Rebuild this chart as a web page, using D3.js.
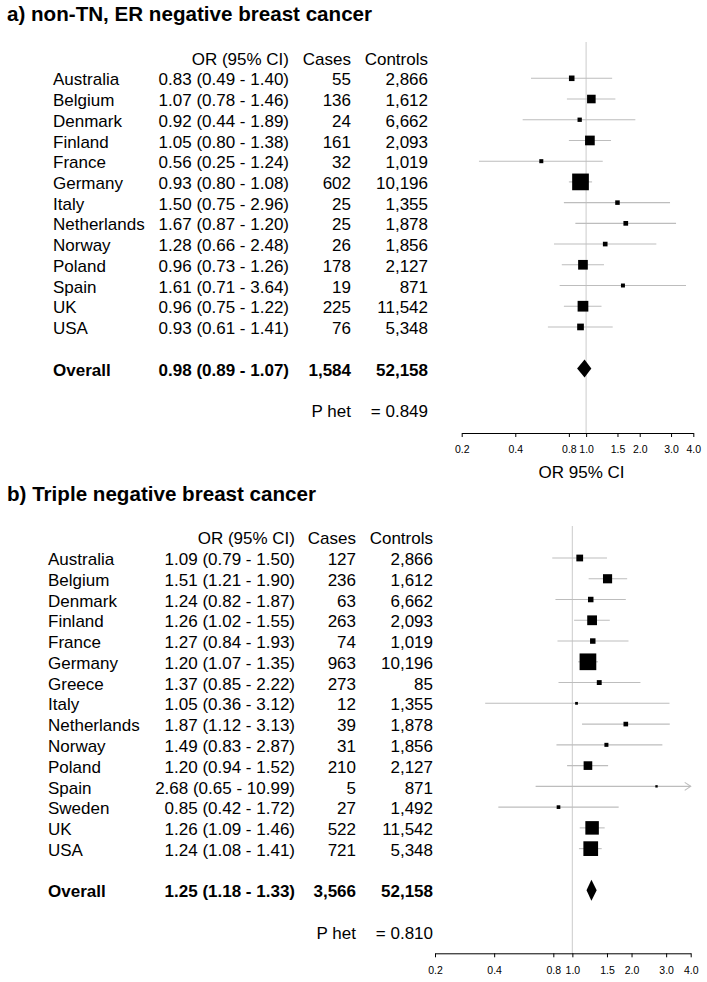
<!DOCTYPE html>
<html>
<head>
<meta charset="utf-8">
<script src="https://cdn.jsdelivr.net/npm/d3@7"></script>
<style>
  body { margin: 0; background: #fff; }
  svg { display: block; font-family: "Liberation Sans", Arial, Helvetica, sans-serif; }
</style>
</head>
<body>
<svg id="chart" width="707" height="982"></svg>
<script>
// ---- data: a) non-TN, ER negative ----
const aCountries = ['Australia', 'Belgium', 'Denmark', 'Finland', 'France', 'Germany', 'Italy',
  'Netherlands', 'Norway', 'Poland', 'Spain', 'UK', 'USA']
const aOR = [0.83, 1.07, 0.92, 1.05, 0.56, 0.93, 1.50, 1.67, 1.28, 0.96, 1.61, 0.96, 0.93]
const aLo = [0.49, 0.78, 0.44, 0.80, 0.25, 0.80, 0.75, 0.87, 0.66, 0.73, 0.71, 0.75, 0.61]
const aHi = [1.40, 1.46, 1.89, 1.38, 1.24, 1.08, 2.96, 3.20, 2.48, 1.26, 3.64, 1.22, 1.41]
const aLabels = ['0.83 (0.49 - 1.40)', '1.07 (0.78 - 1.46)', '0.92 (0.44 - 1.89)', '1.05 (0.80 - 1.38)',
  '0.56 (0.25 - 1.24)', '0.93 (0.80 - 1.08)', '1.50 (0.75 - 2.96)', '1.67 (0.87 - 1.20)',
  '1.28 (0.66 - 2.48)', '0.96 (0.73 - 1.26)', '1.61 (0.71 - 3.64)', '0.96 (0.75 - 1.22)',
  '0.93 (0.61 - 1.41)']
const aCases = ['55', '136', '24', '161', '32', '602', '25', '25', '26', '178', '19', '225', '76']
const aControls = ['2,866', '1,612', '6,662', '2,093', '1,019', '10,196', '1,355', '1,878',
  '1,856', '2,127', '871', '11,542', '5,348']
const aOverall = [0.98, 0.89, 1.07]
const aOverallText = ['0.98 (0.89 - 1.07)', '1,584', '52,158']
const aPhet = '= 0.849'

// ---- data: b) triple negative ----
const bCountries = ['Australia', 'Belgium', 'Denmark', 'Finland', 'France', 'Germany', 'Greece',
  'Italy', 'Netherlands', 'Norway', 'Poland', 'Spain', 'Sweden', 'UK', 'USA']
const bOR = [1.09, 1.51, 1.24, 1.26, 1.27, 1.20, 1.37, 1.05, 1.87, 1.49, 1.20, 2.68, 0.85, 1.26, 1.24]
const bLo = [0.79, 1.21, 0.82, 1.02, 0.84, 1.07, 0.85, 0.36, 1.12, 0.83, 0.94, 0.65, 0.42, 1.09, 1.08]
const bHi = [1.50, 1.90, 1.87, 1.55, 1.93, 1.35, 2.22, 3.12, 3.13, 2.87, 1.52, 10.99, 1.72, 1.46, 1.41]
const bLabels = ['1.09 (0.79 - 1.50)', '1.51 (1.21 - 1.90)', '1.24 (0.82 - 1.87)', '1.26 (1.02 - 1.55)',
  '1.27 (0.84 - 1.93)', '1.20 (1.07 - 1.35)', '1.37 (0.85 - 2.22)', '1.05 (0.36 - 3.12)',
  '1.87 (1.12 - 3.13)', '1.49 (0.83 - 2.87)', '1.20 (0.94 - 1.52)', '2.68 (0.65 - 10.99)',
  '0.85 (0.42 - 1.72)', '1.26 (1.09 - 1.46)', '1.24 (1.08 - 1.41)']
const bCases = ['127', '236', '63', '263', '74', '963', '273', '12', '39', '31', '210', '5', '27', '522', '721']
const bControls = ['2,866', '1,612', '6,662', '2,093', '1,019', '10,196', '85', '1,355', '1,878',
  '1,856', '2,127', '871', '1,492', '11,542', '5,348']
const bOverall = [1.25, 1.18, 1.33]
const bOverallText = ['1.25 (1.18 - 1.33)', '3,566', '52,158']
const bPhet = '= 0.810'

const tickValues = [0.2, 0.4, 0.8, 1.0, 1.5, 2.0, 3.0, 4.0]
const headers = ['OR (95% CI)', 'Cases', 'Controls']

const svg = d3.select('#chart')
svg.append('rect').attr('width', 707).attr('height', 982).attr('fill', '#fff')

drawPanel({
  title: 'a) non-TN, ER negative breast cancer', titleY: 21,
  countries: aCountries, or: aOR, lo: aLo, hi: aHi, labels: aLabels, cases: aCases, controls: aControls,
  overall: aOverall, overallText: aOverallText, phet: aPhet,
  row0: 78.3, step: 20.72,
  colName: 53, colOR: 289, colCases: 351, colControls: 428,
  xRange: [461.7, 693.3], axisY: 433, lineTop: 42, diamondH: 18,
  xlab: 'OR 95% CI'
})

drawPanel({
  title: 'b) Triple negative breast cancer', titleY: 501,
  countries: bCountries, or: bOR, lo: bLo, hi: bHi, labels: bLabels, cases: bCases, controls: bControls,
  overall: bOverall, overallText: bOverallText, phet: bPhet,
  row0: 558, step: 20.76,
  colName: 48, colOR: 295, colCases: 356, colControls: 433,
  xRange: [435, 690.7], axisY: 953.3, lineTop: 526, diamondH: 21,
  xlab: null
})

function drawPanel(p) {
  const n = p.countries.length
  const g = svg.append('g')

  const x = d3.scaleLog().domain([0.2, 4.0]).range(p.xRange)
  const y = d3.scaleLinear().domain([0, 1]).range([p.row0, p.row0 + p.step])
  const overallRow = n + 1
  const phetRow = n + 3

  // box side from inverse standard error
  const se = p.lo.map((l, i) => (Math.log(p.hi[i]) - Math.log(l)) / (2 * 1.96))
  const w = se.map(s => 1 / s)
  const size = d3.scaleLinear().domain([0, d3.max(w)]).range([1.1, 16.7])

  g.append('text')
    .attr('x', 7).attr('y', p.titleY)
    .attr('font-size', 20.6).attr('font-weight', 'bold')
    .text(p.title)

  // table
  const txt = g.append('g').attr('font-size', 17).attr('fill', '#000')
  const cols = [p.colOR, p.colCases, p.colControls]
  headers.forEach((h, j) => {
    txt.append('text').attr('x', cols[j]).attr('y', y(-1)).attr('dy', '0.42em')
      .attr('text-anchor', 'end').text(h)
  })
  p.countries.forEach((c, i) => {
    const row = txt.append('g')
    row.append('text').attr('x', p.colName).attr('y', y(i)).attr('dy', '0.42em').text(c)
    row.append('text').attr('x', p.colOR).attr('y', y(i)).attr('dy', '0.42em')
      .attr('text-anchor', 'end').text(p.labels[i])
    row.append('text').attr('x', p.colCases).attr('y', y(i)).attr('dy', '0.42em')
      .attr('text-anchor', 'end').text(p.cases[i])
    row.append('text').attr('x', p.colControls).attr('y', y(i)).attr('dy', '0.42em')
      .attr('text-anchor', 'end').text(p.controls[i])
  })
  const ov = txt.append('g').attr('font-weight', 'bold')
  ov.append('text').attr('x', p.colName).attr('y', y(overallRow)).attr('dy', '0.42em').text('Overall')
  p.overallText.forEach((t, j) => {
    ov.append('text').attr('x', cols[j]).attr('y', y(overallRow)).attr('dy', '0.42em')
      .attr('text-anchor', 'end').text(t)
  })
  txt.append('text').attr('x', p.colCases).attr('y', y(phetRow)).attr('dy', '0.42em')
    .attr('text-anchor', 'end').text('P het')
  txt.append('text').attr('x', p.colControls).attr('y', y(phetRow)).attr('dy', '0.42em')
    .attr('text-anchor', 'end').text(p.phet)

  // reference line at OR = 1
  g.append('line')
    .attr('x1', x(1)).attr('x2', x(1))
    .attr('y1', p.lineTop).attr('y2', p.axisY)
    .attr('stroke', '#d4d4d4').attr('stroke-width', 1.2)

  // confidence intervals
  const maxV = x.domain()[1]
  const minV = x.domain()[0]
  d3.range(n).forEach(i => {
    const lo = Math.max(p.lo[i], minV)
    const hi = Math.min(p.hi[i], maxV)
    g.append('line')
      .attr('x1', x(lo)).attr('x2', x(hi))
      .attr('y1', y(i)).attr('y2', y(i))
      .attr('stroke', '#bdbdbd').attr('stroke-width', 1.1)
    if (p.hi[i] > maxV) {
      // clipped: draw arrow head
      g.append('path')
        .attr('d', 'M' + (x(maxV) - 6) + ',' + (y(i) - 4) + 'L' + x(maxV) + ',' + y(i) + 'L' + (x(maxV) - 6) + ',' + (y(i) + 4))
        .attr('fill', 'none').attr('stroke', '#bdbdbd').attr('stroke-width', 1.1)
    }
  })

  // boxes
  g.selectAll('rect.box')
    .data(d3.range(n))
    .enter().append('rect')
      .attr('class', 'box')
      .attr('x', i => x(p.or[i]) - size(w[i]) / 2)
      .attr('y', i => y(i) - size(w[i]) / 2)
      .attr('width', i => size(w[i]))
      .attr('height', i => size(w[i]))
      .attr('fill', '#000')

  // overall diamond
  const oy = y(overallRow)
  const h = p.diamondH / 2
  g.append('path')
    .attr('d', 'M' + x(p.overall[1]) + ',' + oy + 'L' + x(p.overall[0]) + ',' + (oy - h) +
      'L' + x(p.overall[2]) + ',' + oy + 'L' + x(p.overall[0]) + ',' + (oy + h) + 'Z')
    .attr('fill', '#000')

  // axis
  const axis = g.append('g')
    .attr('transform', 'translate(0,' + p.axisY + ')')
    .call(d3.axisBottom(x)
      .tickValues(tickValues)
      .tickFormat(d3.format('.1f'))
      .tickSize(4)
      .tickSizeOuter(0)
      .tickPadding(9))
  axis.selectAll('text').attr('font-size', 10.5).attr('font-family', '"Liberation Sans", Arial, sans-serif')
  axis.selectAll('line, path').attr('stroke', '#000')

  if (p.xlab) {
    g.append('text')
      .attr('x', (p.xRange[0] + p.xRange[1]) / 2 + 4)
      .attr('y', p.axisY + 45)
      .attr('text-anchor', 'middle')
      .attr('font-size', 17)
      .text(p.xlab)
  }
}
</script>
</body>
</html>
